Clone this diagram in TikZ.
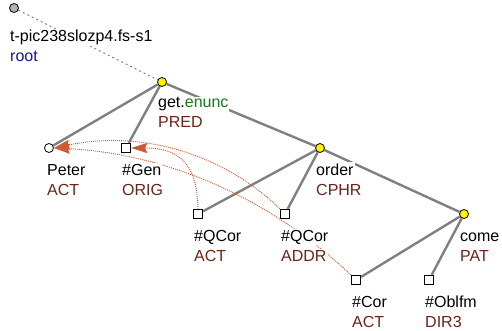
\documentclass[tikz,border=0pt]{standalone}
\usepackage{fontspec}
\setmainfont{Liberation Sans}
\usetikzlibrary{arrows.meta}
\definecolor{functor}{RGB}{110,35,25}
\definecolor{rootblue}{RGB}{20,20,160}
\definecolor{lemgreen}{RGB}{20,125,20}
\definecolor{corefcol}{RGB}{205,90,50}
\definecolor{edgegray}{RGB}{128,128,128}
\pgfdeclarelayer{bg}
\pgfsetlayers{bg,main}
\setlength{\fboxsep}{1pt}
\newcommand{\tlab}[2]{\begin{tabular}[t]{@{}l@{}}\colorbox{white}{#1}\\\colorbox{white}{#2}\end{tabular}}
\tikzset{
  ynode/.style={circle, draw, line width=0.8pt, fill=yellow, minimum size=9pt, inner sep=0pt},
  onode/.style={circle, draw, line width=0.8pt, fill=white, minimum size=9pt, inner sep=0pt},
  rootnode/.style={circle, draw, line width=0.8pt, fill=black!30, minimum size=9pt, inner sep=0pt},
  bnode/.style={rectangle, draw, line width=0.8pt, fill=white, minimum size=9.5pt, inner sep=0pt},
  lbl/.style={anchor=base west, inner sep=0pt, font=\fontsize{16}{20}\selectfont},
  edge/.style={draw=edgegray, line width=2.4pt},
  rootline/.style={draw=edgegray, line width=0.9pt, dash pattern=on 2pt off 3pt},
  coref/.style={draw=corefcol, line width=0.9pt, dash pattern=on 1pt off 1pt,
    -{Stealth[length=16pt, width=10pt, inset=2pt, fill=corefcol]}}
}
\begin{document}
\begin{tikzpicture}[x=1pt, y=-1pt]
\useasboundingbox (0,0) rectangle (502,331);
% tree nodes
\node[rootnode] (root) at (14,8) {};
\node[ynode] (get) at (162,82) {};
\node[onode] (peter) at (49,148) {};
\node[bnode] (gen) at (126,148) {};
\node[ynode] (order) at (320,148) {};
\node[bnode] (qcact) at (198,214) {};
\node[bnode] (qcaddr) at (285,214) {};
\node[ynode] (come) at (464,214) {};
\node[bnode] (cor) at (356,280) {};
\node[bnode] (oblfm) at (429,280) {};
% edges and coreference arrows
\begin{pgfonlayer}{bg}
\draw[rootline] (root) -- (get);
\draw[edge] (get) -- (peter);
\draw[edge] (get) -- (gen);
\draw[edge] (get) -- (order);
\draw[edge] (order) -- (qcact);
\draw[edge] (order) -- (qcaddr);
\draw[edge] (order) -- (come);
\draw[edge] (come) -- (cor);
\draw[edge] (come) -- (oblfm);
\draw[coref] (qcaddr.north west) .. controls (230,160) and (150,128) .. (peter.east);
\draw[coref] (cor.north west) .. controls (250,180) and (140,152) .. (peter.east);
\end{pgfonlayer}
\draw[coref] (qcact.north) .. controls (197,170) and (185,148) .. (gen.east);
% labels
\node[lbl] (root-l) at (9,42) {\tlab{t-pic238slozp4.fs-s1}{\textcolor{rootblue}{root}}};
\node[lbl] (get-l) at (157,108) {\tlab{get.\textcolor{lemgreen}{enunc}}{\textcolor{functor}{PRED}}};
\node[lbl] (peter-l) at (46,175) {\tlab{Peter}{\textcolor{functor}{ACT}}};
\node[lbl] (gen-l) at (121,175) {\tlab{\#Gen}{\textcolor{functor}{ORIG}}};
\node[lbl] (order-l) at (315,175) {\tlab{order}{\textcolor{functor}{CPHR}}};
\node[lbl] (qcact-l) at (193,241) {\tlab{\#QCor}{\textcolor{functor}{ACT}}};
\node[lbl] (qcaddr-l) at (280,241) {\tlab{\#QCor}{\textcolor{functor}{ADDR}}};
\node[lbl] (come-l) at (459,241) {\tlab{come}{\textcolor{functor}{PAT}}};
\node[lbl] (cor-l) at (351,307) {\tlab{\#Cor}{\textcolor{functor}{ACT}}};
\node[lbl] (oblfm-l) at (424,307) {\tlab{\#Oblfm}{\textcolor{functor}{DIR3}}};
\end{tikzpicture}
\end{document}
